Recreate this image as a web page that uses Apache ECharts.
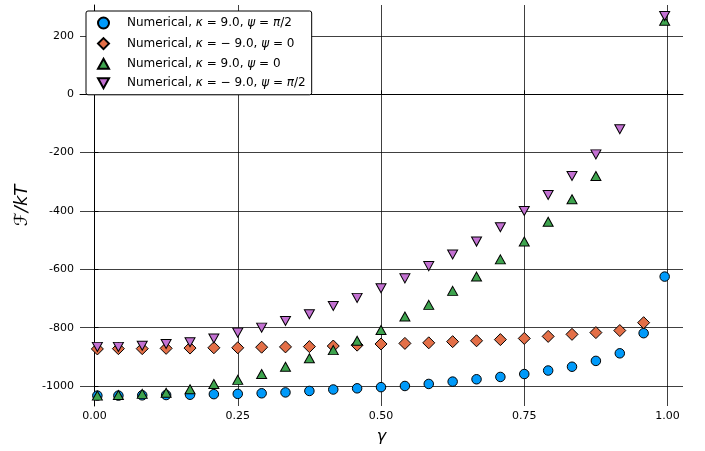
<!DOCTYPE html>
<html><head><meta charset="utf-8">
<script src="https://cdn.jsdelivr.net/npm/echarts@6/dist/echarts.min.js"></script>
<style>html,body{margin:0;padding:0;background:#fff}#c{width:705px;height:451px}</style>
</head><body><div id="c"></div>
<script>
const gamma = [0.005, 0.0417, 0.0833, 0.125, 0.1667, 0.2083, 0.25, 0.2917, 0.3333, 0.375, 0.4167, 0.4583, 0.5,
  0.5417, 0.5833, 0.625, 0.6667, 0.7083, 0.75, 0.7917, 0.8333, 0.875, 0.9167, 0.9583, 0.995];
const seriesNames = [
  'Numerical, κ = 9.0, ψ = π/2',
  'Numerical, κ = − 9.0, ψ = 0',
  'Numerical, κ = 9.0, ψ = 0',
  'Numerical, κ = − 9.0, ψ = π/2'
];
const kPosPsiPi2 = [-1033, -1033, -1032, -1031, -1030, -1028, -1027, -1025, -1022, -1017, -1012, -1008, -1004,
  -1000, -993, -985, -977, -969, -959, -947, -934, -914, -888, -819, -625];
const kNegPsi0 = [-873, -872, -872, -871, -870, -869, -869, -867, -866, -865, -863, -860, -856,
  -854, -852, -848, -845, -841, -837, -830, -823, -817, -810, -783, null];
const kPosPsi0 = [-1033, -1031, -1027, -1023, -1011, -993, -979, -959, -934, -905, -877, -845, -808,
  -762, -722, -674, -625, -566, -505, -437, -360, -280, null, null, 252];
const kNegPsiPi2 = [-866, -866, -862, -856, -850, -837, -817, -800, -777, -754, -726, -698, -665,
  -631, -589, -549, -505, -456, -400, -345, -280, -206, -120, null, 268];
const xTickStep = 0.25;
const yTickStep = 200;

const colors = ['#009AFA', '#E36F47', '#3EA44E', '#C371D2'];
const upTri = 'path://M5,0L10,9L0,9Z';
const downTri = 'path://M0,0L10,0L5,9Z';
const symbols = ['circle', 'diamond', upTri, downTri];
const sizes = [9.5, 12, [10, 9], [10, 9]];
const allData = [kPosPsiPi2, kNegPsi0, kPosPsi0, kNegPsiPi2];

function pairs(vals) {
  const out = [];
  vals.forEach((v, i) => { if (v !== null) out.push([gamma[i], v]); });
  return out;
}

const font = 'DejaVu Sans';
const chart = echarts.init(document.getElementById('c'), null, {renderer: 'canvas'});
chart.setOption({
  animation: false,
  backgroundColor: '#fff',
  grid: {left: 80, right: 22, top: 5, bottom: 45, containLabel: false},
  xAxis: {
    type: 'value', min: -0.0253, max: 1.027,
    minInterval: xTickStep, maxInterval: xTickStep,
    name: 'γ', nameLocation: 'middle', nameGap: 23,
    nameTextStyle: {fontFamily: font, fontSize: 16, fontStyle: 'italic', color: '#000'},
    axisLine: {show: true, lineStyle: {color: '#000', width: 1}},
    axisTick: {show: true, inside: true, length: 4, lineStyle: {color: '#000'}},
    axisLabel: {showMinLabel: false, showMaxLabel: false, margin: 5, color: '#000', fontFamily: font, fontSize: 11,
      formatter: v => v.toFixed(2)},
    splitLine: {show: true, showMinLine: false, showMaxLine: false, lineStyle: {color: 'rgba(0,0,0,0.75)', width: 1}}
  },
  yAxis: {
    type: 'value', min: -1068.6, max: 306,
    minInterval: yTickStep, maxInterval: yTickStep,
    name: 'ℱ/kT', nameLocation: 'middle', nameGap: 37, nameRotate: 90,
    nameTextStyle: {fontFamily: font, fontSize: 18, fontStyle: 'italic', color: '#000'},
    axisLine: {show: true, lineStyle: {color: '#000', width: 1}},
    axisTick: {show: true, inside: true, length: 4, lineStyle: {color: '#000'}},
    axisLabel: {showMinLabel: false, showMaxLabel: false, margin: 6, color: '#000', fontFamily: font, fontSize: 11,
      formatter: v => String(Math.round(v))},
    splitLine: {show: true, showMinLine: false, showMaxLine: false, lineStyle: {color: 'rgba(0,0,0,0.75)', width: 1}}
  },
  legend: {
    orient: 'vertical', left: 86, top: 11,
    padding: [5.5, 6, 5.5, 11],
    itemWidth: 11, itemHeight: 11, itemGap: 7.6,
    backgroundColor: '#fff', borderColor: '#000', borderWidth: 1, borderRadius: 2,
    data: seriesNames.map((n, k) => ({name: n, icon: symbols[k]})),
    formatter: name => name.replace(/([κψπ])/g, '{i|$1}'),
    textStyle: {fontFamily: font, fontSize: 12, color: '#000', lineHeight: 12, padding: [0, 0, 0, 13],
      rich: {i: {fontFamily: font, fontSize: 12, fontStyle: 'italic', color: '#000', lineHeight: 12}}}
  },
  series: allData.map((d, k) => ({
    name: seriesNames[k],
    type: 'scatter',
    data: pairs(d),
    symbol: symbols[k],
    symbolSize: sizes[k],
    itemStyle: {color: colors[k], borderColor: '#000', borderWidth: 1, opacity: 1},
    emphasis: {disabled: true}
  }))
});
</script></body></html>
